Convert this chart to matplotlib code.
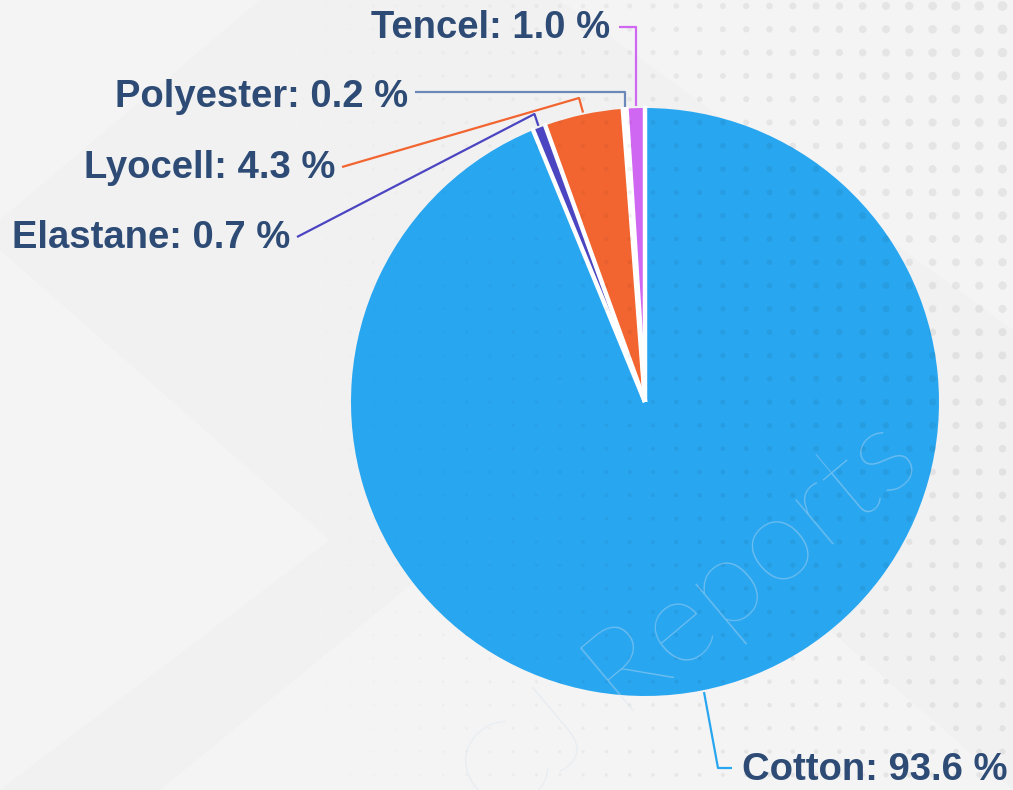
import numpy as np
import matplotlib
matplotlib.use("Agg")
import matplotlib.pyplot as plt
from matplotlib.patches import Polygon

# data
materials = ["Cotton", "Elastane", "Lyocell", "Polyester", "Tencel"]
shares = [93.6, 0.7, 4.3, 0.2, 1.0]
colors = ["#29A6F0", "#4C45C2", "#F26531", "#6A88B8", "#D067F2"]

W, H = 1013, 790
fig = plt.figure(figsize=(W / 100, H / 100), dpi=100)
ax = fig.add_axes([0, 0, 1, 1])
ax.set_xlim(0, W)
ax.set_ylim(0, H)
ax.axis("off")
fig.patch.set_facecolor("#F1F1F1")

def py(y):
    # image row (top = 0) -> data y
    return H - y

# background shapes
bg_shapes = [
    [(0, 0), (260, 0), (0, 220)],
    [(0, 250), (330, 540), (0, 790)],
    [(160, 790), (600, 430), (1013, 790)],
    [(560, 0), (1013, 0), (1013, 330)],
]
for pts in bg_shapes:
    ax.add_patch(Polygon([(x, py(y)) for x, y in pts], closed=True,
                         facecolor="white", alpha=0.22, edgecolor="none", zorder=0))

# pie
cx, cy, R = 645, py(402), 294
wedges, _ = ax.pie(shares, colors=colors, startangle=90, counterclock=False,
                   center=(cx, cy), radius=R,
                   wedgeprops=dict(edgecolor="none", linewidth=0))
for w in wedges:
    w.set_zorder(2)
# white gaps between slices
for w in wedges:
    a = np.deg2rad(w.theta1)
    ax.plot([cx, cx + (R + 2) * np.cos(a)], [cy, cy + (R + 2) * np.sin(a)],
            color="white", lw=3.2, zorder=2.5, solid_capstyle="butt")
ax.set_xlim(0, W)
ax.set_ylim(0, H)
ax.set_aspect("equal")

# dot pattern overlay
gx = np.arange(653 - 23.3 * 28, W + 10, 23.3)
gy = np.arange(6, H + 10, 23.3)
xx, yy = np.meshgrid(gx, gy)
xx, yy = xx.ravel(), yy.ravel()
keep = xx > 180
xx, yy = xx[keep], yy[keep]
d = 2 + 8 * (xx / W) ** 2 * (1 - 0.5 * yy / H)
alpha = np.clip((xx - 250) / 500, 0, 1) * 0.06
rgba = np.zeros((len(xx), 4))
rgba[:, 3] = alpha
ax.scatter(xx, py(yy), s=(0.72 * d) ** 2, c=rgba, linewidths=0, zorder=3)

# watermark
ax.text(690, py(622), "CJ Reports", rotation=40, rotation_mode="anchor",
        ha="center", va="center", fontsize=86, fontweight=100,
        family=["Lato", "Roboto", "DejaVu Sans"], color="#D5E2EE",
        alpha=0.4, zorder=4)

# labels with leader lines
text_color = "#2D4B75"
label_pos = {  # (text x, text y, ha)
    "Tencel": (610, 28, "right"),
    "Polyester": (408, 97, "right"),
    "Lyocell": (335, 168, "right"),
    "Elastane": (290, 238, "right"),
    "Cotton": (742, 770, "left"),
}
elbow_y = {"Tencel": 27, "Polyester": 92, "Lyocell": 98, "Elastane": 114, "Cotton": 768}
line_end_x = {"Tencel": 619, "Polyester": 415, "Lyocell": 342, "Elastane": 297, "Cotton": 732}

for w, name, val, col in zip(wedges, materials, shares, colors):
    ang = np.deg2rad((w.theta1 + w.theta2) / 2)
    if name == "Cotton":
        ang = np.deg2rad(-78.5)
    sx = cx + (R + 2) * np.cos(ang)
    sy = cy + (R + 2) * np.sin(ang)
    tx, ty, ha = label_pos[name]
    ey = elbow_y[name]
    if name in ("Tencel", "Polyester"):
        xs = [sx, sx, line_end_x[name]]
        ys = [sy, py(ey), py(ey)]
    elif name == "Cotton":
        xs = [sx, 718, line_end_x[name]]
        ys = [sy, py(ey), py(ey)]
    else:
        xs = [sx, sx - 4, line_end_x[name]]
        ys = [sy, py(ey), py(ty - 1)]
    ax.plot(xs, ys, color=col, lw=1.6, zorder=5, solid_capstyle="butt")
    ax.text(tx, py(ty), f"{name}: {val:.1f} %", ha=ha, va="center",
            fontsize=27.5, fontweight="bold", color=text_color,
            family=["Liberation Sans", "DejaVu Sans"], zorder=6)

fig.savefig("out.png", dpi=100, facecolor=fig.get_facecolor())
